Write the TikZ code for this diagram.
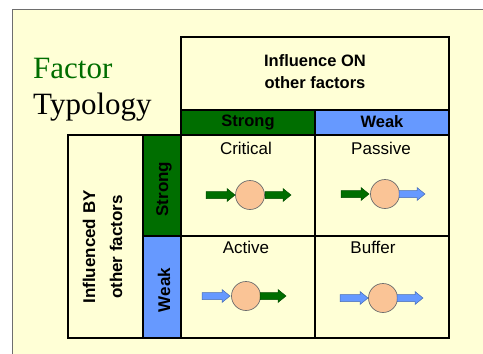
\documentclass[tikz,border=0pt]{standalone}
\usepackage{fontspec}
\setmainfont{Liberation Sans}
\newfontfamily\titlefont{Liberation Serif}
\begin{document}
\definecolor{slidebg}{RGB}{255,255,214}
\definecolor{framegray}{RGB}{110,110,110}
\definecolor{strongc}{RGB}{0,110,0}
\definecolor{weakc}{RGB}{102,153,255}
\definecolor{peach}{RGB}{250,196,150}
\begin{tikzpicture}[x=1pt,y=-1pt,
  grid/.style={draw=black,line width=2pt},
  hdr/.style={font=\bfseries\fontsize{16.5}{18}\selectfont,align=center},
  lab/.style={font=\fontsize{17}{19}\selectfont},
  side/.style={font=\bfseries\fontsize{17}{19}\selectfont,rotate=90},
  factor/.style={circle,draw=framegray,line width=0.7pt,fill=peach,minimum size=29pt,inner sep=0pt},
  pics/barrow/.style 2 args={code={
    \filldraw[fill=#2,draw=#2!70!black,line width=0.5pt]
      (0,-3.5) -- (#1-8,-3.5) -- (#1-8,-6.5) -- (#1,0) -- (#1-8,6.5) -- (#1-8,3.5) -- (0,3.5) -- cycle;}}
]
% page and slide frame
\useasboundingbox (0,0) rectangle (483,354);
\fill[white] (0,0) rectangle (483,354);
\fill[slidebg] (12,9) rectangle (483,354);
\draw[framegray,line width=1pt] (12,354) -- (12,9) -- (483,9);

% title
\node[anchor=base west,inner sep=0pt,text=strongc,font=\titlefont\fontsize{31}{33}\selectfont] (t1) at (33,78) {Factor};
\node[anchor=base west,inner sep=0pt,font=\titlefont\fontsize{31}{33}\selectfont] (t2) at (33,114) {Typology};

% column header
\draw[grid] (181,37) rectangle (449,110);
\node[hdr] (on) at (315,72) {Influence ON\\[4pt]other factors};
\fill[strongc] (181,110) rectangle (315,135);
\fill[weakc] (315,110) rectangle (449,135);
\draw[grid] (181,110) rectangle (449,135);
\draw[grid] (315,110) -- (315,135);
\node[hdr] (hs) at (248,122) {Strong};
\node[hdr] (hw) at (382,122) {Weak};

% row header
\draw[grid] (68,135) rectangle (143,338);
\node[side] (by1) at (89,247) {Influenced BY};
\node[side] (by2) at (116,247) {other factors};
\fill[strongc] (143,135) rectangle (181,236);
\fill[weakc] (143,236) rectangle (181,338);
\draw[grid] (143,135) rectangle (181,338);
\draw[grid] (143,236) -- (181,236);
\node[side] (vs) at (164,189) {Strong};
\node[side] (vw) at (164,290) {Weak};

% cells
\draw[grid] (181,135) rectangle (449,338);
\draw[grid] (315,135) -- (315,338);
\draw[grid] (181,236) -- (449,236);
\node[lab] (c1) at (246,148) {Critical};
\node[lab] (c2) at (381,148) {Passive};
\node[lab] (c3) at (246,247) {Active};
\node[lab] (c4) at (373,247) {Buffer};

% factors with incoming and outgoing influence
\node[factor] (crit) at (250,195) {};
\node[factor] (pass) at (385,194) {};
\node[factor] (act) at (246,296) {};
\node[factor] (buf) at (383,298) {};
\pic at (206,195) {barrow={29}{strongc}};
\pic at (265,195) {barrow={26}{strongc}};
\pic at (341,194) {barrow={28}{strongc}};
\pic at (399,194) {barrow={26}{weakc}};
\pic at (202,296) {barrow={28}{weakc}};
\pic at (260,296) {barrow={26}{strongc}};
\pic at (340,298) {barrow={28}{weakc}};
\pic at (397,298) {barrow={26}{weakc}};
\end{tikzpicture}
\end{document}
